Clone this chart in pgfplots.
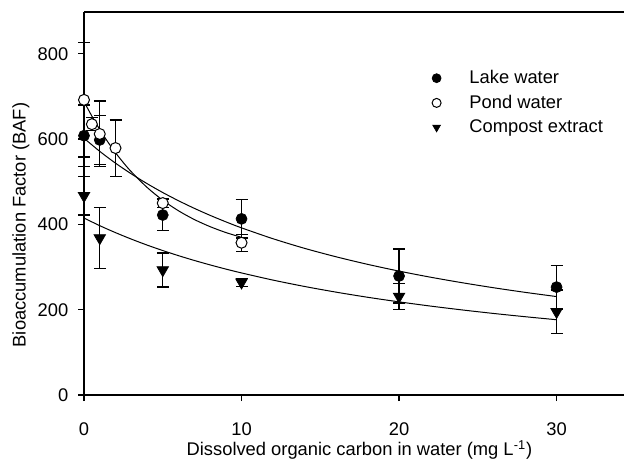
\documentclass[border=0pt]{standalone}
\usepackage{fontspec}
\setmainfont{Liberation Sans}
\usepackage{pgfplots}
\pgfplotsset{compat=1.18}
\begin{document}
\fontsize{11}{13}\selectfont
\begin{tikzpicture}
\useasboundingbox (-50.4pt,-42.6pt) rectangle (324pt,237pt);
\begin{axis}[
  scale only axis, width=324pt, height=229.8pt,
  xmin=0, xmax=34.28, ymin=0, ymax=898,
  axis x line*=box, axis y line*=left,
  xtick={0,10,20,30}, ytick={0,200,400,600,800},
  xtick pos=bottom, ytick pos=left,
  tick align=outside, major tick length=3.6pt,
  tick style={line width=0.8pt, black},
  axis line style={line width=0.8pt},
  /pgf/number format/assume math mode=true,
  ticklabel style={font=\fontsize{11}{13}\selectfont},
  xticklabel style={yshift=-9pt},
  yticklabel style={xshift=-2pt},
  xlabel={Dissolved organic carbon in water (mg L\textsuperscript{-1})},
  ylabel={Bioaccumulation Factor (BAF)},
  xlabel style={at={(axis description cs:0.510,-0.1436)}, anchor=center},
  ylabel style={at={(axis description cs:-0.1167,0.4439)}, anchor=center},
  legend style={draw=none, fill=none, at={(axis cs:21.76,778)}, anchor=north west,
    font=\fontsize{11}{13}\selectfont, row sep=1.2pt,
    /tikz/every odd column/.append style={column sep=15pt}},
  legend image post style={mark size=2.7pt},
  legend cell align=left,
  clip=false,
]
% fitted curves
\addplot[no marks, smooth, line width=0.6pt, forget plot] coordinates {
(0,602) (1,571.3) (2,543.6) (3,518.6) (4,495.7) (5,474.7) (6,455.5) (7,437.7) (8,421.3) (9,406.1) (10,391.9) (12,366.4) (14,343.9) (16,324.1) (18,306.4) (20,290.5) (22,276.2) (24,263.3) (26,251.5) (28,240.7) (30,230.8)};
\addplot[no marks, smooth, line width=0.6pt, forget plot] coordinates {
(0,688) (0.5,653.9) (1,622.5) (1.5,594.0) (2,568.1) (2.5,544.8) (3,523.6) (4,486.9) (5,456.7) (6,431.9) (7,411.5) (8,394.8) (9,381.0) (10,369.7)};
\addplot[no marks, smooth, line width=0.6pt, forget plot] coordinates {
(0,415) (1,397.0) (2,380.7) (3,365.6) (4,351.6) (5,338.7) (6,326.7) (7,315.5) (8,305.1) (9,295.3) (10,286.2) (12,269.4) (14,254.5) (16,241.2) (18,229.2) (20,218.4) (22,208.5) (24,199.5) (26,191.2) (28,183.6) (30,176.5)};
% data
\addplot[only marks, mark=*, mark size=3.3pt, mark options={fill=black, draw=black},
  error bars/.cd, y dir=both, y explicit,
  error bar style={line width=0.8pt, black},
  error mark options={rotate=90, mark size=3.6pt, line width=0.8pt}]
  coordinates {
  (0,608) +- (0,72)
  (1,598) +- (0,57)
  (5,422) +- (0,37)
  (10,413) +- (0,45)
  (20,279) +- (0,63)
  (30,253) +- (0,51)
  };
\addlegendentry{Lake water}
\addplot[only marks, mark=*, mark size=3.3pt, mark options={fill=white, draw=black, line width=0.6pt},
  error bars/.cd, y dir=both, y explicit,
  error bar style={line width=0.8pt, black},
  error mark options={rotate=90, mark size=3.6pt, line width=0.8pt}]
  coordinates {
  (0,692) +- (0,134)
  (0.5,635) +- (0,15)
  (1,612) +- (0,77)
  (2,579) +- (0,66)
  (5,450) +- (0,11)
  (10,357) +- (0,20)
  };
\addlegendentry{Pond water}
\addplot[only marks, mark=triangle*, mark size=4pt, mark options={fill=black, draw=black, rotate=180},
  error bars/.cd, y dir=both, y explicit,
  error bar style={line width=0.8pt, black},
  error mark options={rotate=90, mark size=3.6pt, line width=0.8pt}]
  coordinates {
  (0,467) +- (0,45)
  (1,368) +- (0,72)
  (5,293) +- (0,40)
  (10,264) +- (0,9)
  (20,231) +- (0,30)
  (30,195) +- (0,51)
  };
\addlegendentry{Compost extract}
\end{axis}
\end{tikzpicture}
\end{document}
